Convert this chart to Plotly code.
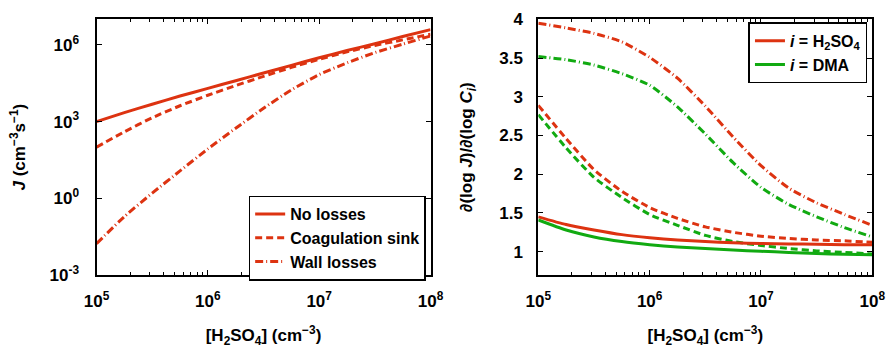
import plotly.graph_objects as go

# log10 of [H2SO4] (cm^-3)
logx = [5.0, 5.25, 5.5, 5.75, 6.0, 6.25, 6.5, 6.75, 7.0, 7.25, 7.5, 7.75, 8.0]

# Left panel: log10 J (cm^-3 s^-1)
J_no_losses = [3.0, 3.35, 3.68, 4.0, 4.3, 4.6, 4.9, 5.2, 5.5, 5.78, 6.05, 6.33, 6.6]
J_coag = [2.0, 2.6, 3.15, 3.62, 4.03, 4.41, 4.77, 5.12, 5.44, 5.73, 5.98, 6.2, 6.42]
J_wall = [-1.78, -0.72, 0.2, 1.07, 1.93, 2.74, 3.52, 4.24, 4.84, 5.3, 5.7, 6.03, 6.35]

# Right panel: d(log J)/d(log C_i)
h2so4_none = [1.45, 1.35, 1.28, 1.22, 1.18, 1.15, 1.13, 1.115, 1.105, 1.10, 1.095, 1.09, 1.09]
dma_none = [1.41, 1.28, 1.19, 1.13, 1.09, 1.06, 1.04, 1.02, 1.005, 0.99, 0.975, 0.965, 0.96]
h2so4_coag = [2.89, 2.46, 2.06, 1.78, 1.57, 1.43, 1.32, 1.25, 1.20, 1.17, 1.15, 1.14, 1.12]
dma_coag = [2.77, 2.34, 1.96, 1.70, 1.48, 1.34, 1.21, 1.13, 1.08, 1.04, 1.01, 0.99, 0.97]
h2so4_wall = [3.95, 3.89, 3.82, 3.71, 3.51, 3.24, 2.88, 2.48, 2.11, 1.82, 1.63, 1.48, 1.34]
dma_wall = [3.52, 3.48, 3.41, 3.30, 3.15, 2.87, 2.52, 2.15, 1.83, 1.61, 1.45, 1.31, 1.19]

x_tick_exp = [5, 6, 7, 8]
y_tick_exp = [-3, 0, 3, 6]
r_ticks = [1, 1.5, 2, 2.5, 3, 3.5, 4]
r_ticktext = ["1", "1.5", "2", "2.5", "3", "3.5", "4"]

RED = "#dd3311"
GREEN = "#11aa11"
FONT = "Liberation Sans, Arial, sans-serif"
DASH = "7px,4px"
DASHDOT = "8px,3px,1px,3px"

xv = [10 ** v for v in logx]

fig = go.Figure()

def add(y, color, dash, name, xa, ya, legend, show):
    fig.add_trace(go.Scatter(
        x=xv, y=y, mode="lines", name=name, xaxis=xa, yaxis=ya,
        line=dict(color=color, width=3, dash=dash, shape="spline", smoothing=0.6),
        legend=legend, showlegend=show))

add([10 ** v for v in J_no_losses], RED, "solid", "No losses", "x", "y", "legend", True)
add([10 ** v for v in J_coag], RED, DASH, "Coagulation sink", "x", "y", "legend", True)
add([10 ** v for v in J_wall], RED, DASHDOT, "Wall losses", "x", "y", "legend", True)

add(h2so4_wall, RED, DASHDOT, "", "x2", "y2", "legend2", False)
add(dma_wall, GREEN, DASHDOT, "", "x2", "y2", "legend2", False)
add(h2so4_coag, RED, DASH, "", "x2", "y2", "legend2", False)
add(dma_coag, GREEN, DASH, "", "x2", "y2", "legend2", False)
add(h2so4_none, RED, "solid", "<i>i</i> = H<sub>2</sub>SO<sub>4</sub>", "x2", "y2", "legend2", True)
add(dma_none, GREEN, "solid", "<i>i</i> = DMA", "x2", "y2", "legend2", True)

xticktext = ["10<sup>%d</sup>" % e for e in x_tick_exp]
xtickvals = [10 ** e for e in x_tick_exp]
minor_vals = [m * 10 ** e for e in range(5, 8) for m in range(2, 10)]

tickfont = dict(family=FONT, size=17, color="black", weight="bold")
titlefont = dict(family=FONT, size=17, color="black", weight="bold")
legfont = dict(family=FONT, size=16, color="black", weight="bold")

xcommon = dict(type="log", range=[5, 8], tickmode="array", tickvals=xtickvals, ticktext=xticktext,
               ticks="inside", ticklen=5, tickwidth=1, tickcolor="black", ticklabelstandoff=10,
               minor=dict(tickmode="array", tickvals=minor_vals, ticks="inside", ticklen=3, tickcolor="black", showgrid=False),
               showline=True, linecolor="black", linewidth=2, mirror="ticks", showgrid=False, zeroline=False,
               tickfont=tickfont,
               title=dict(text="[H<sub>2</sub>SO<sub>4</sub>] (cm<sup>\u22123</sup>)", font=titlefont, standoff=19))

fig.update_layout(
    width=896, height=353, margin=dict(l=0, r=0, t=0, b=0),
    plot_bgcolor="white", paper_bgcolor="white",
    font=dict(family=FONT, size=17, color="black", weight="bold"),
    xaxis=dict(domain=[86 / 896, 430 / 896], anchor="y", **xcommon),
    xaxis2=dict(domain=[541 / 896, 885 / 896], anchor="y2", **xcommon),
    yaxis=dict(type="log", range=[-3, 7], domain=[72 / 353, 342 / 353], anchor="x",
               tickmode="array", tickvals=[10 ** e for e in y_tick_exp],
               ticktext=["10<sup>%d</sup>" % e for e in y_tick_exp],
               ticks="inside", ticklen=5, tickcolor="black", ticklabelstandoff=12,
               showline=True, linecolor="black", linewidth=2, mirror="ticks", showgrid=False, zeroline=False,
               tickfont=tickfont,
               title=dict(text="<i>J</i> (cm<sup>\u22123</sup>s<sup>\u22121</sup>)", font=titlefont, standoff=20)),
    yaxis2=dict(range=[0.7, 4.0], domain=[72 / 353, 342 / 353], anchor="x2",
                tickmode="array", tickvals=r_ticks, ticktext=r_ticktext,
                ticks="inside", ticklen=5, tickcolor="black", ticklabelstandoff=10,
                showline=True, linecolor="black", linewidth=2, mirror="ticks", showgrid=False, zeroline=False,
                tickfont=tickfont,
                title=dict(text="\u2202(log <i>J</i>)/\u2202(log <i>C</i><sub><i>i</i></sub>)", font=titlefont, standoff=22)),
    legend=dict(x=425 / 896, y=(353 - 287) / 353, xanchor="right", yanchor="bottom",
                bgcolor="white", bordercolor="black", borderwidth=1.5,
                font=legfont, tracegroupgap=0, itemwidth=30),
    legend2=dict(x=880 / 896, y=(353 - 14) / 353, xanchor="right", yanchor="top",
                 bgcolor="white", bordercolor="black", borderwidth=1.5,
                 font=legfont, tracegroupgap=0, itemwidth=30),
)

fig.write_html("out.html")
